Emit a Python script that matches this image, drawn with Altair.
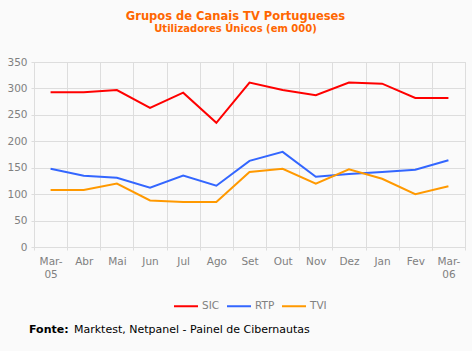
import altair as alt
import pandas as pd

months = ["Mar-05", "Abr", "Mai", "Jun", "Jul", "Ago", "Set", "Out", "Nov", "Dez", "Jan", "Fev", "Mar-06"]
sic = [293, 293, 297, 263, 292, 235, 311, 297, 287, 311, 309, 282, 282]
rtp = [148, 135, 131, 112, 135, 116, 163, 180, 133, 138, 142, 146, 164]
tvi = [108, 108, 120, 88, 85, 85, 142, 148, 120, 147, 129, 100, 115]
series = ["SIC", "RTP", "TVI"]
colors = ["#FF0000", "#3366FF", "#FF9900"]

rows = []
for name, vals in zip(series, [sic, rtp, tvi]):
    for m, v in zip(months, vals):
        rows.append({"mes": m, "valor": v, "canal": name})
df = pd.DataFrame(rows)

FONT = "DejaVu Sans"
GREY = "#808080"

lines = alt.Chart(df).mark_line(strokeWidth=2, interpolate="linear").encode(
    x=alt.X("mes:N", sort=months, bandPosition=0.5,
            scale=alt.Scale(type="band", paddingInner=0, paddingOuter=0),
            axis=alt.Axis(title=None, labelAngle=0, tickBand="extent", grid=True,
                          gridColor="#dddddd", domain=False, tickColor="#dddddd", tickSize=3,
                          labelColor=GREY, labelFont=FONT, labelFontSize=10.5, labelPadding=6,
                          labelBaseline="top", labelLineHeight=13,
                          labelExpr="length(datum.label) > 3 ? [substring(datum.label,0,4), substring(datum.label,4)] : datum.label")),
    y=alt.Y("valor:Q", scale=alt.Scale(domain=[0, 350], nice=False),
            axis=alt.Axis(title=None, values=[0, 50, 100, 150, 200, 250, 300, 350],
                          grid=True, gridColor="#dddddd", domain=False, tickColor="#dddddd",
                          tickSize=3, labelColor=GREY, labelFont=FONT, labelFontSize=10.5,
                          labelPadding=4)),
    color=alt.Color("canal:N", sort=series,
                    scale=alt.Scale(domain=series, range=colors),
                    legend=alt.Legend(title=None, orient="none", direction="horizontal",
                                      legendX=139, legendY=231,
                                      symbolType="stroke", symbolSize=576, symbolStrokeWidth=2,
                                      labelColor=GREY, labelFont=FONT, labelFontSize=10.5,
                                      labelOffset=3, columnPadding=3)),
)

src = pd.DataFrame({"a": [1]})
fonte_b = alt.Chart(src).mark_text(align="left", baseline="middle", font=FONT,
                                   fontSize=11, fontWeight="bold", color="#000000").encode(
    x=alt.value(-5), y=alt.value(268), text=alt.value("Fonte:"))
fonte_r = alt.Chart(src).mark_text(align="left", baseline="middle", font=FONT,
                                   fontSize=11, color="#000000").encode(
    x=alt.value(40), y=alt.value(268), text=alt.value("Marktest, Netpanel - Painel de Cibernautas"))

chart = alt.layer(lines, fonte_b, fonte_r).properties(
    width=431, height=185,
    autosize=alt.AutoSizeParams(type="none"),
    padding={"left": 34, "top": 62, "right": 7, "bottom": 104},
    background="#FAFAFA",
    title=alt.TitleParams(text="Grupos de Canais TV Portugueses",
                          subtitle="Utilizadores Únicos (em 000)",
                          color="#FF6600", subtitleColor="#FF6600",
                          font=FONT, subtitleFont=FONT,
                          fontSize=11.5, subtitleFontSize=10,
                          fontWeight="bold", subtitleFontWeight="bold",
                          anchor="middle", dx=-14, offset=23, subtitlePadding=2),
).configure_view(stroke="#dddddd", fill="#FAFAFA")

chart.save("out.html", embed_options={"renderer": "svg", "actions": False})
